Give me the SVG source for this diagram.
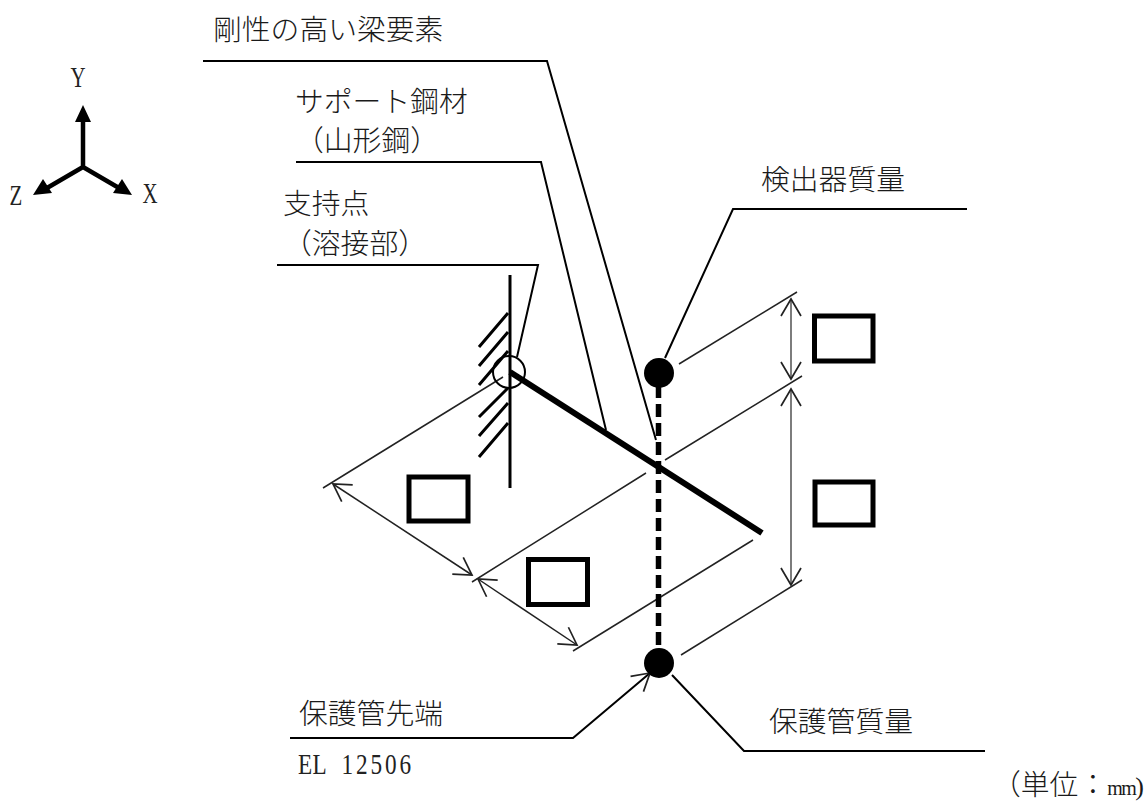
<svg xmlns="http://www.w3.org/2000/svg" width="1146" height="801" viewBox="0 0 1146 801">
<style>
.t{font-family:"Noto Sans CJK JP","Liberation Serif",sans-serif;font-size:28.8px;fill:#1a1a1a;font-weight:300}
.l{font-family:"Liberation Serif",serif;font-size:29px;fill:#222}
.ld{fill:none;stroke:#000;stroke-width:2}
.d{fill:none;stroke:#222;stroke-width:1.5}
.dv{fill:none;stroke:#666;stroke-width:1.7}
.ax{stroke:#000;stroke-width:4.5;fill:none}
.box{fill:#fff;stroke:#000;stroke-width:5}
</style>
<defs>
<marker id="open" viewBox="-22 -12 24 24" refX="0" refY="0" markerWidth="24" markerHeight="24" markerUnits="userSpaceOnUse" orient="auto-start-reverse"><path d="M-17,-10 L0,0 L-17,10" fill="none" stroke="#222" stroke-width="1.7"/></marker>
</defs>
<g id="axes">
<path class="ax" d="M83,167V118M83,167L47,188M83,167L119,188"/>
<path d="M83,105L91,122H75ZM33,195L52,193L43,179ZM132,195L113,193L122,179Z" fill="#000"/>
<text class="l" text-anchor="middle" transform="translate(78,87) scale(.72,1)">Y</text>
<text class="l" text-anchor="middle" transform="translate(150,203) scale(.72,1)">X</text>
<text class="l" text-anchor="middle" transform="translate(16,205) scale(.72,1)">Z</text>
</g>
<g id="connectors">
<path class="ld" d="M203,61H547L656,440"/>
<path class="ld" d="M296,162H541L606,430"/>
<path class="ld" d="M277,265H538L517,357"/>
<path class="ld" d="M967,209H733L665,358"/>
<path class="ld" d="M985,751H744L672,675"/>
<path class="ld" d="M290,738H573L650,673" marker-end="url(#open)"/>
<path class="d" d="M503,377L323,488"/>
<path class="d" d="M472,582L646,473M665,460L802,376"/>
<path class="d" d="M573,651L753,540"/>
<path class="d" d="M679,364L797,292"/>
<path class="d" d="M681,655L802,580"/>
<path class="d" d="M333,484L472,575" marker-start="url(#open)" marker-end="url(#open)"/>
<path class="d" d="M478,579L577,645" marker-start="url(#open)" marker-end="url(#open)"/>
<path class="dv" d="M791,299V379" marker-start="url(#open)" marker-end="url(#open)"/>
<path class="dv" d="M791,389V585" marker-start="url(#open)" marker-end="url(#open)"/>
</g>
<g id="support">
<path d="M510,275V488" stroke="#000" stroke-width="3" fill="none"/>
<path d="M479,347L508,313M479,366L508,332M479,385L508,351M479,417L508,388M479,436L508,403M479,457L508,423" stroke="#000" stroke-width="3" fill="none"/>
<circle cx="509" cy="372" r="16" fill="none" stroke="#000" stroke-width="2"/>
</g>
<g id="beam"><path d="M510,372L762,533" stroke="#000" stroke-width="6" fill="none"/></g>
<g id="pipe"><path d="M658.5,385V650" stroke="#000" stroke-width="5.5" stroke-dasharray="13,6" fill="none"/></g>
<g id="detector-mass"><circle cx="659" cy="373" r="15" fill="#000"/></g>
<g id="pipe-mass"><circle cx="659" cy="663" r="15" fill="#000"/></g>
<g id="boxes">
<rect class="box" x="814.5" y="316" width="58.5" height="45"/>
<rect class="box" x="815" y="482" width="58" height="43"/>
<rect class="box" x="409" y="477" width="59" height="44"/>
<rect class="box" x="528.500" y="559.500" width="59" height="45"/>
</g>
<g id="labels">
<text class="t" x="213" y="40">剛性の高い梁要素</text>
<text class="t" x="295" y="112">サポート鋼材</text>
<text class="t" x="295" y="151">（山形鋼）</text>
<text class="t" x="283" y="214">支持点</text>
<text class="t" x="283" y="254">（溶接部）</text>
<text class="t" x="761" y="190">検出器質量</text>
<text class="t" x="769" y="732">保護管質量</text>
<text class="t" x="299" y="724">保護管先端</text>
<text class="l" transform="translate(298,774) scale(.8,1)" x="0 18.100 36.200 54.400 72.500 90.600 108.800 126.900">EL 12506</text>
<text class="t" x="992" y="795">（単位：<tspan style="font-family:'Liberation Serif',serif;font-size:20px;letter-spacing:-1.500px">mm</tspan><tspan style="font-family:'Liberation Serif',serif;font-size:26px">)</tspan></text>
</g>
</svg>
